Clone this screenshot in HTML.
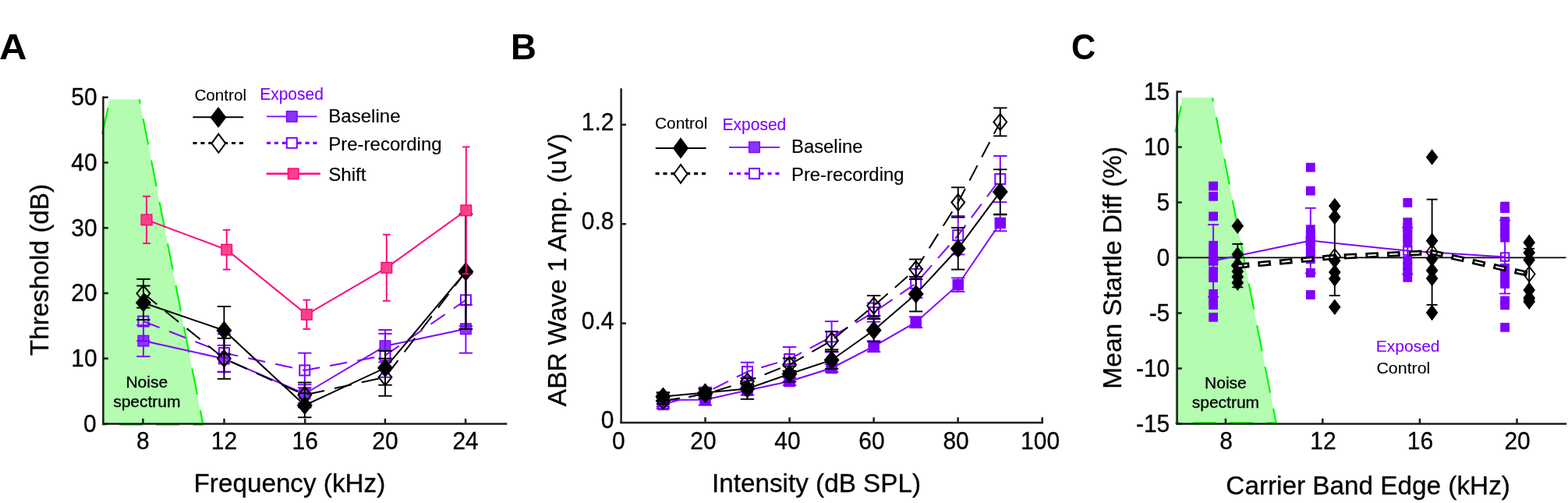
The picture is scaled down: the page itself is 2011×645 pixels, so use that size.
<!DOCTYPE html>
<html lang="en">
<head>
<meta charset="utf-8">
<title>Figure: ABR thresholds, wave 1 amplitude and startle difference</title>
<style>
html, body { margin: 0; padding: 0; background: #ffffff; }
body { width: 2011px; height: 645px; overflow: hidden; }
svg { display: block; }
text { font-family: "Liberation Sans", sans-serif; }
</style>
</head>
<body>
<svg width="2011" height="645" viewBox="0 0 2011 645" role="img" aria-label="Three-panel figure: ABR threshold, ABR wave 1 amplitude and mean startle difference">
<rect x="0" y="0" width="2011" height="645" fill="#ffffff"/>
<polygon points="131.2,544 131.2,170.7 140,127.4 178.7,127.4 260.35,544" fill="#b3fcb0"/>
<line x1="131" y1="171.7" x2="138.6" y2="138.5" stroke="#00f800" stroke-width="2.15" />
<line x1="178.75" y1="127.4" x2="179.79" y2="132.7" stroke="#00f800" stroke-width="2.15" />
<line x1="183.61" y1="152.2" x2="190.16" y2="185.6" stroke="#00f800" stroke-width="2.15" />
<line x1="194.08" y1="205.6" x2="200.62" y2="239" stroke="#00f800" stroke-width="2.15" />
<line x1="204.54" y1="259" x2="211.09" y2="292.4" stroke="#00f800" stroke-width="2.15" />
<line x1="215.01" y1="312.4" x2="221.56" y2="345.8" stroke="#00f800" stroke-width="2.15" />
<line x1="225.48" y1="365.8" x2="232.02" y2="399.2" stroke="#00f800" stroke-width="2.15" />
<line x1="235.94" y1="419.2" x2="242.49" y2="452.6" stroke="#00f800" stroke-width="2.15" />
<line x1="246.41" y1="472.6" x2="252.96" y2="506" stroke="#00f800" stroke-width="2.15" />
<line x1="256.88" y1="526" x2="260.4" y2="544" stroke="#00f800" stroke-width="2.15" />
<line x1="247.55" y1="544.5" x2="260.75" y2="544.5" stroke="#00f800" stroke-width="2.15" />
<line x1="200.15" y1="544.5" x2="229.95" y2="544.5" stroke="#00f800" stroke-width="2.15" />
<line x1="153.25" y1="544.5" x2="183.05" y2="544.5" stroke="#00f800" stroke-width="2.15" />
<line x1="130.9" y1="544.5" x2="136.3" y2="544.5" stroke="#00f800" stroke-width="2.15" />
<text transform="translate(188.3 496.9)" font-size="21" text-anchor="middle" fill="#000" stroke="#000" stroke-width="0.3">Noise</text>
<text transform="translate(188.3 521.8)" font-size="21" text-anchor="middle" fill="#000" stroke="#000" stroke-width="0.3">spectrum</text>
<polyline points="183.9,437.1 287.4,460 390.8,505 494,443.7 597.4,421.7" fill="none" stroke="#7f00ff" stroke-width="2" />
<line x1="183.9" y1="417.1" x2="183.9" y2="457.1" stroke="#7f00ff" stroke-width="1.9" />
<line x1="175.2" y1="417.1" x2="192.6" y2="417.1" stroke="#7f00ff" stroke-width="1.9" />
<line x1="175.2" y1="457.1" x2="192.6" y2="457.1" stroke="#7f00ff" stroke-width="1.9" />
<line x1="287.4" y1="442.8" x2="287.4" y2="477.2" stroke="#7f00ff" stroke-width="1.9" />
<line x1="278.7" y1="442.8" x2="296.1" y2="442.8" stroke="#7f00ff" stroke-width="1.9" />
<line x1="278.7" y1="477.2" x2="296.1" y2="477.2" stroke="#7f00ff" stroke-width="1.9" />
<line x1="390.8" y1="493.3" x2="390.8" y2="516.7" stroke="#7f00ff" stroke-width="1.9" />
<line x1="382.1" y1="493.3" x2="399.5" y2="493.3" stroke="#7f00ff" stroke-width="1.9" />
<line x1="382.1" y1="516.7" x2="399.5" y2="516.7" stroke="#7f00ff" stroke-width="1.9" />
<line x1="494" y1="423" x2="494" y2="464.4" stroke="#7f00ff" stroke-width="1.9" />
<line x1="485.3" y1="423" x2="502.7" y2="423" stroke="#7f00ff" stroke-width="1.9" />
<line x1="485.3" y1="464.4" x2="502.7" y2="464.4" stroke="#7f00ff" stroke-width="1.9" />
<line x1="597.4" y1="390.7" x2="597.4" y2="452.7" stroke="#7f00ff" stroke-width="1.9" />
<line x1="588.7" y1="390.7" x2="606.1" y2="390.7" stroke="#7f00ff" stroke-width="1.9" />
<line x1="588.7" y1="452.7" x2="606.1" y2="452.7" stroke="#7f00ff" stroke-width="1.9" />
<rect x="177.1" y="430.3" width="13.6" height="13.6" fill="#8833ff" stroke="#7f00ff" stroke-width="1.4"/>
<rect x="280.6" y="453.2" width="13.6" height="13.6" fill="#8833ff" stroke="#7f00ff" stroke-width="1.4"/>
<rect x="384" y="498.2" width="13.6" height="13.6" fill="#8833ff" stroke="#7f00ff" stroke-width="1.4"/>
<rect x="487.2" y="436.9" width="13.6" height="13.6" fill="#8833ff" stroke="#7f00ff" stroke-width="1.4"/>
<rect x="590.6" y="414.9" width="13.6" height="13.6" fill="#8833ff" stroke="#7f00ff" stroke-width="1.4"/>
<polyline points="183.9,412 287.4,452.5 390.8,474.9 494,455.8 597.4,384.8" fill="none" stroke="#7f00ff" stroke-width="2" stroke-dasharray="22.3 13.4" stroke-dashoffset="0" />
<line x1="183.9" y1="386.8" x2="183.9" y2="437.2" stroke="#7f00ff" stroke-width="1.9" />
<line x1="175.2" y1="386.8" x2="192.6" y2="386.8" stroke="#7f00ff" stroke-width="1.9" />
<line x1="175.2" y1="437.2" x2="192.6" y2="437.2" stroke="#7f00ff" stroke-width="1.9" />
<line x1="287.4" y1="428.4" x2="287.4" y2="476.6" stroke="#7f00ff" stroke-width="1.9" />
<line x1="278.7" y1="428.4" x2="296.1" y2="428.4" stroke="#7f00ff" stroke-width="1.9" />
<line x1="278.7" y1="476.6" x2="296.1" y2="476.6" stroke="#7f00ff" stroke-width="1.9" />
<line x1="390.8" y1="452.7" x2="390.8" y2="497.1" stroke="#7f00ff" stroke-width="1.9" />
<line x1="382.1" y1="452.7" x2="399.5" y2="452.7" stroke="#7f00ff" stroke-width="1.9" />
<line x1="382.1" y1="497.1" x2="399.5" y2="497.1" stroke="#7f00ff" stroke-width="1.9" />
<line x1="494" y1="427.9" x2="494" y2="483.7" stroke="#7f00ff" stroke-width="1.9" />
<line x1="485.3" y1="427.9" x2="502.7" y2="427.9" stroke="#7f00ff" stroke-width="1.9" />
<line x1="485.3" y1="483.7" x2="502.7" y2="483.7" stroke="#7f00ff" stroke-width="1.9" />
<line x1="597.4" y1="351.3" x2="597.4" y2="418.3" stroke="#7f00ff" stroke-width="1.9" />
<line x1="588.7" y1="351.3" x2="606.1" y2="351.3" stroke="#7f00ff" stroke-width="1.9" />
<line x1="588.7" y1="418.3" x2="606.1" y2="418.3" stroke="#7f00ff" stroke-width="1.9" />
<rect x="177.4" y="405.5" width="13" height="13" fill="none" stroke="#7f00ff" stroke-width="2"/>
<rect x="280.9" y="446" width="13" height="13" fill="none" stroke="#7f00ff" stroke-width="2"/>
<rect x="384.3" y="468.4" width="13" height="13" fill="none" stroke="#7f00ff" stroke-width="2"/>
<rect x="487.5" y="449.3" width="13" height="13" fill="none" stroke="#7f00ff" stroke-width="2"/>
<rect x="590.9" y="378.3" width="13" height="13" fill="none" stroke="#7f00ff" stroke-width="2"/>
<polyline points="183.9,376.3 287.4,459.8 390.8,506.5 494,483.7 597.4,348.2" fill="none" stroke="#000" stroke-width="2" stroke-dasharray="22.3 13.4" stroke-dashoffset="0" />
<line x1="183.9" y1="357.9" x2="183.9" y2="394.7" stroke="#000" stroke-width="1.9" />
<line x1="175.2" y1="357.9" x2="192.6" y2="357.9" stroke="#000" stroke-width="1.9" />
<line x1="175.2" y1="394.7" x2="192.6" y2="394.7" stroke="#000" stroke-width="1.9" />
<line x1="287.4" y1="433.8" x2="287.4" y2="485.8" stroke="#000" stroke-width="1.9" />
<line x1="278.7" y1="433.8" x2="296.1" y2="433.8" stroke="#000" stroke-width="1.9" />
<line x1="278.7" y1="485.8" x2="296.1" y2="485.8" stroke="#000" stroke-width="1.9" />
<line x1="390.8" y1="490.5" x2="390.8" y2="522.5" stroke="#000" stroke-width="1.9" />
<line x1="382.1" y1="490.5" x2="399.5" y2="490.5" stroke="#000" stroke-width="1.9" />
<line x1="382.1" y1="522.5" x2="399.5" y2="522.5" stroke="#000" stroke-width="1.9" />
<line x1="494" y1="459.7" x2="494" y2="507.7" stroke="#000" stroke-width="1.9" />
<line x1="485.3" y1="459.7" x2="502.7" y2="459.7" stroke="#000" stroke-width="1.9" />
<line x1="485.3" y1="507.7" x2="502.7" y2="507.7" stroke="#000" stroke-width="1.9" />
<line x1="597.4" y1="274.4" x2="597.4" y2="422" stroke="#000" stroke-width="1.9" />
<line x1="588.7" y1="274.4" x2="606.1" y2="274.4" stroke="#000" stroke-width="1.9" />
<line x1="588.7" y1="422" x2="606.1" y2="422" stroke="#000" stroke-width="1.9" />
<polygon points="183.9,365.9 192.3,376.3 183.9,386.7 175.5,376.3" fill="none" stroke="#000" stroke-width="2" stroke-linejoin="miter"/>
<polygon points="287.4,449.4 295.8,459.8 287.4,470.2 279,459.8" fill="none" stroke="#000" stroke-width="2" stroke-linejoin="miter"/>
<polygon points="390.8,496.1 399.2,506.5 390.8,516.9 382.4,506.5" fill="none" stroke="#000" stroke-width="2" stroke-linejoin="miter"/>
<polygon points="494,473.3 502.4,483.7 494,494.1 485.6,483.7" fill="none" stroke="#000" stroke-width="2" stroke-linejoin="miter"/>
<polygon points="597.4,337.8 605.8,348.2 597.4,358.6 589,348.2" fill="none" stroke="#000" stroke-width="2" stroke-linejoin="miter"/>
<polyline points="183.9,388.3 287.4,423.7 390.8,519.7 494,471.8 597.4,348.4" fill="none" stroke="#000" stroke-width="2" />
<line x1="183.9" y1="366.5" x2="183.9" y2="410.1" stroke="#000" stroke-width="1.9" />
<line x1="175.2" y1="366.5" x2="192.6" y2="366.5" stroke="#000" stroke-width="1.9" />
<line x1="175.2" y1="410.1" x2="192.6" y2="410.1" stroke="#000" stroke-width="1.9" />
<line x1="287.4" y1="393" x2="287.4" y2="454.4" stroke="#000" stroke-width="1.9" />
<line x1="278.7" y1="393" x2="296.1" y2="393" stroke="#000" stroke-width="1.9" />
<line x1="278.7" y1="454.4" x2="296.1" y2="454.4" stroke="#000" stroke-width="1.9" />
<line x1="390.8" y1="504.2" x2="390.8" y2="535.2" stroke="#000" stroke-width="1.9" />
<line x1="382.1" y1="504.2" x2="399.5" y2="504.2" stroke="#000" stroke-width="1.9" />
<line x1="382.1" y1="535.2" x2="399.5" y2="535.2" stroke="#000" stroke-width="1.9" />
<line x1="494" y1="449.9" x2="494" y2="493.7" stroke="#000" stroke-width="1.9" />
<line x1="485.3" y1="449.9" x2="502.7" y2="449.9" stroke="#000" stroke-width="1.9" />
<line x1="485.3" y1="493.7" x2="502.7" y2="493.7" stroke="#000" stroke-width="1.9" />
<line x1="597.4" y1="274.8" x2="597.4" y2="422" stroke="#000" stroke-width="1.9" />
<line x1="588.7" y1="274.8" x2="606.1" y2="274.8" stroke="#000" stroke-width="1.9" />
<line x1="588.7" y1="422" x2="606.1" y2="422" stroke="#000" stroke-width="1.9" />
<polygon points="183.9,376.1 193.9,388.3 183.9,400.5 173.9,388.3" fill="#000"/>
<polygon points="287.4,411.5 297.4,423.7 287.4,435.9 277.4,423.7" fill="#000"/>
<polygon points="390.8,507.5 400.8,519.7 390.8,531.9 380.8,519.7" fill="#000"/>
<polygon points="494,459.6 504,471.8 494,484 484,471.8" fill="#000"/>
<polygon points="597.4,336.2 607.4,348.4 597.4,360.6 587.4,348.4" fill="#000"/>
<polyline points="188,281.9 290.7,320.2 393.3,403.3 495.8,343.3 597.8,269.8" fill="none" stroke="#ff0080" stroke-width="2" />
<line x1="188" y1="251.7" x2="188" y2="312.1" stroke="#ff0080" stroke-width="1.9" />
<line x1="183.2" y1="251.7" x2="192.8" y2="251.7" stroke="#ff0080" stroke-width="1.9" />
<line x1="183.2" y1="312.1" x2="192.8" y2="312.1" stroke="#ff0080" stroke-width="1.9" />
<line x1="290.7" y1="294.8" x2="290.7" y2="345.6" stroke="#ff0080" stroke-width="1.9" />
<line x1="285.9" y1="294.8" x2="295.5" y2="294.8" stroke="#ff0080" stroke-width="1.9" />
<line x1="285.9" y1="345.6" x2="295.5" y2="345.6" stroke="#ff0080" stroke-width="1.9" />
<line x1="393.3" y1="384.6" x2="393.3" y2="422" stroke="#ff0080" stroke-width="1.9" />
<line x1="388.5" y1="384.6" x2="398.1" y2="384.6" stroke="#ff0080" stroke-width="1.9" />
<line x1="388.5" y1="422" x2="398.1" y2="422" stroke="#ff0080" stroke-width="1.9" />
<line x1="495.8" y1="300.8" x2="495.8" y2="385.8" stroke="#ff0080" stroke-width="1.9" />
<line x1="491" y1="300.8" x2="500.6" y2="300.8" stroke="#ff0080" stroke-width="1.9" />
<line x1="491" y1="385.8" x2="500.6" y2="385.8" stroke="#ff0080" stroke-width="1.9" />
<line x1="597.8" y1="188.4" x2="597.8" y2="351.2" stroke="#ff0080" stroke-width="1.9" />
<line x1="593" y1="188.4" x2="602.6" y2="188.4" stroke="#ff0080" stroke-width="1.9" />
<line x1="593" y1="351.2" x2="602.6" y2="351.2" stroke="#ff0080" stroke-width="1.9" />
<rect x="181.2" y="275.1" width="13.6" height="13.6" fill="#ff4088" stroke="#ff0080" stroke-width="1.4"/>
<rect x="283.9" y="313.4" width="13.6" height="13.6" fill="#ff4088" stroke="#ff0080" stroke-width="1.4"/>
<rect x="386.5" y="396.5" width="13.6" height="13.6" fill="#ff4088" stroke="#ff0080" stroke-width="1.4"/>
<rect x="489" y="336.5" width="13.6" height="13.6" fill="#ff4088" stroke="#ff0080" stroke-width="1.4"/>
<rect x="591" y="263" width="13.6" height="13.6" fill="#ff4088" stroke="#ff0080" stroke-width="1.4"/>
<line x1="132.4" y1="123.6" x2="132.4" y2="544.6" stroke="#1c1c1c" stroke-width="2.5" />
<line x1="131.3" y1="543.4" x2="650.3" y2="543.4" stroke="#1c1c1c" stroke-width="2.5" />
<line x1="132.4" y1="124.8" x2="138.8" y2="124.8" stroke="#1c1c1c" stroke-width="2.5" />
<text transform="translate(124.6 135.3) scale(1 1.045)" font-size="30" text-anchor="end" fill="#000" stroke="#000" stroke-width="0.3">50</text>
<line x1="132.4" y1="208.52" x2="138.8" y2="208.52" stroke="#1c1c1c" stroke-width="2.5" />
<text transform="translate(124.6 219.02) scale(1 1.045)" font-size="30" text-anchor="end" fill="#000" stroke="#000" stroke-width="0.3">40</text>
<line x1="132.4" y1="292.24" x2="138.8" y2="292.24" stroke="#1c1c1c" stroke-width="2.5" />
<text transform="translate(124.6 302.74) scale(1 1.045)" font-size="30" text-anchor="end" fill="#000" stroke="#000" stroke-width="0.3">30</text>
<line x1="132.4" y1="375.96" x2="138.8" y2="375.96" stroke="#1c1c1c" stroke-width="2.5" />
<text transform="translate(124.6 386.46) scale(1 1.045)" font-size="30" text-anchor="end" fill="#000" stroke="#000" stroke-width="0.3">20</text>
<line x1="132.4" y1="459.68" x2="138.8" y2="459.68" stroke="#1c1c1c" stroke-width="2.5" />
<text transform="translate(124.6 470.18) scale(1 1.045)" font-size="30" text-anchor="end" fill="#000" stroke="#000" stroke-width="0.3">10</text>
<line x1="132.4" y1="543.4" x2="138.8" y2="543.4" stroke="#1c1c1c" stroke-width="2.5" />
<text transform="translate(123.6 553.9) scale(1 1.045)" font-size="30" text-anchor="end" fill="#000" stroke="#000" stroke-width="0.3">0</text>
<line x1="183.4" y1="536.8" x2="183.4" y2="543.4" stroke="#1c1c1c" stroke-width="2.5" />
<text transform="translate(183.4 576) scale(1 1.045)" font-size="30" text-anchor="middle" fill="#000" stroke="#000" stroke-width="0.3">8</text>
<line x1="287.5" y1="536.8" x2="287.5" y2="543.4" stroke="#1c1c1c" stroke-width="2.5" />
<text transform="translate(287.5 576) scale(1 1.045)" font-size="30" text-anchor="middle" fill="#000" stroke="#000" stroke-width="0.3">12</text>
<line x1="391.2" y1="536.8" x2="391.2" y2="543.4" stroke="#1c1c1c" stroke-width="2.5" />
<text transform="translate(391.2 576) scale(1 1.045)" font-size="30" text-anchor="middle" fill="#000" stroke="#000" stroke-width="0.3">16</text>
<line x1="493.9" y1="536.8" x2="493.9" y2="543.4" stroke="#1c1c1c" stroke-width="2.5" />
<text transform="translate(493.9 576) scale(1 1.045)" font-size="30" text-anchor="middle" fill="#000" stroke="#000" stroke-width="0.3">20</text>
<line x1="597.1" y1="536.8" x2="597.1" y2="543.4" stroke="#1c1c1c" stroke-width="2.5" />
<text transform="translate(597.1 576) scale(1 1.045)" font-size="30" text-anchor="middle" fill="#000" stroke="#000" stroke-width="0.3">24</text>
<text transform="translate(371.4 631.4)" font-size="33.25" text-anchor="middle" fill="#000" stroke="#000" stroke-width="0.3">Frequency (kHz)</text>
<text transform="translate(61.9 346) rotate(-90)" font-size="33.3" text-anchor="middle" fill="#000" stroke="#000" stroke-width="0.3">Threshold (dB)</text>
<text transform="translate(-0.9 76) scale(1.07 1)" font-size="46" text-anchor="start" fill="#000" font-weight="bold">A</text>
<text transform="translate(249.4 128.7) scale(1 0.96)" font-size="20.7" text-anchor="start" fill="#000" stroke="#000" stroke-width="0.1">Control</text>
<text transform="translate(333.2 128.2) scale(1 1.04)" font-size="21" text-anchor="start" fill="#7f00ff" stroke="#7f00ff" stroke-width="0.1">Exposed</text>
<line x1="247.3" y1="150.2" x2="312.2" y2="150.2" stroke="#000" stroke-width="2" />
<polygon points="280,136.9 290.4,150.4 280,163.9 269.6,150.4" fill="#000"/>
<line x1="247.5" y1="183.5" x2="312.5" y2="183.5" stroke="#000" stroke-width="3.2" stroke-dasharray="5 4.9"/>
<polygon points="280.3,171.8 289.2,183.8 280.3,195.8 271.4,183.8" fill="#fff" stroke="#000" stroke-width="2" stroke-linejoin="miter"/>
<line x1="342" y1="149.3" x2="406.6" y2="149.3" stroke="#7f00ff" stroke-width="1.7" />
<rect x="367.5" y="142.6" width="13.6" height="13.6" fill="#8833ff" stroke="#7f00ff" stroke-width="1.4"/>
<line x1="342" y1="183.3" x2="406.6" y2="183.3" stroke="#7f00ff" stroke-width="3.2" stroke-dasharray="5 4.9"/>
<rect x="367.8" y="176.8" width="13" height="13" fill="#fff" stroke="#7f00ff" stroke-width="2"/>
<line x1="341.6" y1="222.7" x2="410.9" y2="222.7" stroke="#ff0080" stroke-width="2.4" />
<rect x="369.4" y="216" width="13.6" height="13.6" fill="#ff4088" stroke="#ff0080" stroke-width="1.4"/>
<text transform="translate(421.2 157.4)" font-size="24.1" text-anchor="start" fill="#000" stroke="#000" stroke-width="0.15">Baseline</text>
<text transform="translate(421.2 193.4)" font-size="24" text-anchor="start" fill="#000" stroke="#000" stroke-width="0.15">Pre-recording</text>
<text transform="translate(421.2 231.8)" font-size="24.1" text-anchor="start" fill="#000" stroke="#000" stroke-width="0.15">Shift</text>
<polyline points="850.4,512.9 904.45,512.6 958.5,500.5 1012.55,489 1066.6,472 1120.65,444.2 1174.7,413.2 1228.75,365.2 1282.8,285.9" fill="none" stroke="#7f00ff" stroke-width="2" />
<line x1="850.4" y1="504.6" x2="850.4" y2="521.2" stroke="#7f00ff" stroke-width="1.9" />
<line x1="841.7" y1="504.6" x2="859.1" y2="504.6" stroke="#7f00ff" stroke-width="1.9" />
<line x1="841.7" y1="521.2" x2="859.1" y2="521.2" stroke="#7f00ff" stroke-width="1.9" />
<line x1="904.45" y1="505.6" x2="904.45" y2="519.6" stroke="#7f00ff" stroke-width="1.9" />
<line x1="895.75" y1="505.6" x2="913.15" y2="505.6" stroke="#7f00ff" stroke-width="1.9" />
<line x1="895.75" y1="519.6" x2="913.15" y2="519.6" stroke="#7f00ff" stroke-width="1.9" />
<line x1="958.5" y1="494.5" x2="958.5" y2="506.5" stroke="#7f00ff" stroke-width="1.9" />
<line x1="949.8" y1="494.5" x2="967.2" y2="494.5" stroke="#7f00ff" stroke-width="1.9" />
<line x1="949.8" y1="506.5" x2="967.2" y2="506.5" stroke="#7f00ff" stroke-width="1.9" />
<line x1="1012.55" y1="484" x2="1012.55" y2="494" stroke="#7f00ff" stroke-width="1.9" />
<line x1="1003.85" y1="484" x2="1021.25" y2="484" stroke="#7f00ff" stroke-width="1.9" />
<line x1="1003.85" y1="494" x2="1021.25" y2="494" stroke="#7f00ff" stroke-width="1.9" />
<line x1="1066.6" y1="467" x2="1066.6" y2="477" stroke="#7f00ff" stroke-width="1.9" />
<line x1="1057.9" y1="467" x2="1075.3" y2="467" stroke="#7f00ff" stroke-width="1.9" />
<line x1="1057.9" y1="477" x2="1075.3" y2="477" stroke="#7f00ff" stroke-width="1.9" />
<line x1="1120.65" y1="437.2" x2="1120.65" y2="451.2" stroke="#7f00ff" stroke-width="1.9" />
<line x1="1111.95" y1="437.2" x2="1129.35" y2="437.2" stroke="#7f00ff" stroke-width="1.9" />
<line x1="1111.95" y1="451.2" x2="1129.35" y2="451.2" stroke="#7f00ff" stroke-width="1.9" />
<line x1="1174.7" y1="406.2" x2="1174.7" y2="420.2" stroke="#7f00ff" stroke-width="1.9" />
<line x1="1166" y1="406.2" x2="1183.4" y2="406.2" stroke="#7f00ff" stroke-width="1.9" />
<line x1="1166" y1="420.2" x2="1183.4" y2="420.2" stroke="#7f00ff" stroke-width="1.9" />
<line x1="1228.75" y1="356.4" x2="1228.75" y2="374" stroke="#7f00ff" stroke-width="1.9" />
<line x1="1220.05" y1="356.4" x2="1237.45" y2="356.4" stroke="#7f00ff" stroke-width="1.9" />
<line x1="1220.05" y1="374" x2="1237.45" y2="374" stroke="#7f00ff" stroke-width="1.9" />
<line x1="1282.8" y1="275.5" x2="1282.8" y2="296.3" stroke="#7f00ff" stroke-width="1.9" />
<line x1="1274.1" y1="275.5" x2="1291.5" y2="275.5" stroke="#7f00ff" stroke-width="1.9" />
<line x1="1274.1" y1="296.3" x2="1291.5" y2="296.3" stroke="#7f00ff" stroke-width="1.9" />
<rect x="843.85" y="506.35" width="13.1" height="13.1" fill="#7f00ff" stroke="#7f00ff" stroke-width="1.4"/>
<rect x="897.9" y="506.05" width="13.1" height="13.1" fill="#7f00ff" stroke="#7f00ff" stroke-width="1.4"/>
<rect x="951.95" y="493.95" width="13.1" height="13.1" fill="#7f00ff" stroke="#7f00ff" stroke-width="1.4"/>
<rect x="1006" y="482.45" width="13.1" height="13.1" fill="#7f00ff" stroke="#7f00ff" stroke-width="1.4"/>
<rect x="1060.05" y="465.45" width="13.1" height="13.1" fill="#7f00ff" stroke="#7f00ff" stroke-width="1.4"/>
<rect x="1114.1" y="437.65" width="13.1" height="13.1" fill="#7f00ff" stroke="#7f00ff" stroke-width="1.4"/>
<rect x="1168.15" y="406.65" width="13.1" height="13.1" fill="#7f00ff" stroke="#7f00ff" stroke-width="1.4"/>
<rect x="1222.2" y="358.65" width="13.1" height="13.1" fill="#7f00ff" stroke="#7f00ff" stroke-width="1.4"/>
<rect x="1276.25" y="279.35" width="13.1" height="13.1" fill="#7f00ff" stroke="#7f00ff" stroke-width="1.4"/>
<polyline points="850.4,518.6 904.45,503.7 958.5,476.6 1012.55,460.5 1066.6,431.8 1120.65,400.6 1174.7,363.4 1228.75,301.7 1282.8,229.6" fill="none" stroke="#7f00ff" stroke-width="2" stroke-dasharray="21.8 11.95" stroke-dashoffset="0" />
<line x1="850.4" y1="513.6" x2="850.4" y2="523.6" stroke="#7f00ff" stroke-width="1.9" />
<line x1="841.7" y1="513.6" x2="859.1" y2="513.6" stroke="#7f00ff" stroke-width="1.9" />
<line x1="841.7" y1="523.6" x2="859.1" y2="523.6" stroke="#7f00ff" stroke-width="1.9" />
<line x1="904.45" y1="496.7" x2="904.45" y2="510.7" stroke="#7f00ff" stroke-width="1.9" />
<line x1="895.75" y1="496.7" x2="913.15" y2="496.7" stroke="#7f00ff" stroke-width="1.9" />
<line x1="895.75" y1="510.7" x2="913.15" y2="510.7" stroke="#7f00ff" stroke-width="1.9" />
<line x1="958.5" y1="464.7" x2="958.5" y2="488.5" stroke="#7f00ff" stroke-width="1.9" />
<line x1="949.8" y1="464.7" x2="967.2" y2="464.7" stroke="#7f00ff" stroke-width="1.9" />
<line x1="949.8" y1="488.5" x2="967.2" y2="488.5" stroke="#7f00ff" stroke-width="1.9" />
<line x1="1012.55" y1="445" x2="1012.55" y2="476" stroke="#7f00ff" stroke-width="1.9" />
<line x1="1003.85" y1="445" x2="1021.25" y2="445" stroke="#7f00ff" stroke-width="1.9" />
<line x1="1003.85" y1="476" x2="1021.25" y2="476" stroke="#7f00ff" stroke-width="1.9" />
<line x1="1066.6" y1="412.1" x2="1066.6" y2="451.5" stroke="#7f00ff" stroke-width="1.9" />
<line x1="1057.9" y1="412.1" x2="1075.3" y2="412.1" stroke="#7f00ff" stroke-width="1.9" />
<line x1="1057.9" y1="451.5" x2="1075.3" y2="451.5" stroke="#7f00ff" stroke-width="1.9" />
<line x1="1120.65" y1="388.6" x2="1120.65" y2="412.6" stroke="#7f00ff" stroke-width="1.9" />
<line x1="1111.95" y1="388.6" x2="1129.35" y2="388.6" stroke="#7f00ff" stroke-width="1.9" />
<line x1="1111.95" y1="412.6" x2="1129.35" y2="412.6" stroke="#7f00ff" stroke-width="1.9" />
<line x1="1174.7" y1="344.8" x2="1174.7" y2="382" stroke="#7f00ff" stroke-width="1.9" />
<line x1="1166" y1="344.8" x2="1183.4" y2="344.8" stroke="#7f00ff" stroke-width="1.9" />
<line x1="1166" y1="382" x2="1183.4" y2="382" stroke="#7f00ff" stroke-width="1.9" />
<line x1="1228.75" y1="277" x2="1228.75" y2="326.4" stroke="#7f00ff" stroke-width="1.9" />
<line x1="1220.05" y1="277" x2="1237.45" y2="277" stroke="#7f00ff" stroke-width="1.9" />
<line x1="1220.05" y1="326.4" x2="1237.45" y2="326.4" stroke="#7f00ff" stroke-width="1.9" />
<line x1="1282.8" y1="200" x2="1282.8" y2="259.2" stroke="#7f00ff" stroke-width="1.9" />
<line x1="1274.1" y1="200" x2="1291.5" y2="200" stroke="#7f00ff" stroke-width="1.9" />
<line x1="1274.1" y1="259.2" x2="1291.5" y2="259.2" stroke="#7f00ff" stroke-width="1.9" />
<rect x="843.9" y="512.1" width="13" height="13" fill="none" stroke="#7f00ff" stroke-width="2"/>
<rect x="897.95" y="497.2" width="13" height="13" fill="none" stroke="#7f00ff" stroke-width="2"/>
<rect x="952" y="470.1" width="13" height="13" fill="none" stroke="#7f00ff" stroke-width="2"/>
<rect x="1006.05" y="454" width="13" height="13" fill="none" stroke="#7f00ff" stroke-width="2"/>
<rect x="1060.1" y="425.3" width="13" height="13" fill="none" stroke="#7f00ff" stroke-width="2"/>
<rect x="1114.15" y="394.1" width="13" height="13" fill="none" stroke="#7f00ff" stroke-width="2"/>
<rect x="1168.2" y="356.9" width="13" height="13" fill="none" stroke="#7f00ff" stroke-width="2"/>
<rect x="1222.25" y="295.2" width="13" height="13" fill="none" stroke="#7f00ff" stroke-width="2"/>
<rect x="1276.3" y="223.1" width="13" height="13" fill="none" stroke="#7f00ff" stroke-width="2"/>
<polyline points="850.4,514 904.45,505.3 958.5,489 1012.55,467.5 1066.6,436.7 1120.65,392.1 1174.7,345.3 1228.75,259.5 1282.8,156.4" fill="none" stroke="#000" stroke-width="2" stroke-dasharray="21.8 11.95" stroke-dashoffset="0" />
<line x1="850.4" y1="510" x2="850.4" y2="518" stroke="#000" stroke-width="1.9" />
<line x1="841.7" y1="510" x2="859.1" y2="510" stroke="#000" stroke-width="1.9" />
<line x1="841.7" y1="518" x2="859.1" y2="518" stroke="#000" stroke-width="1.9" />
<line x1="904.45" y1="499.3" x2="904.45" y2="511.3" stroke="#000" stroke-width="1.9" />
<line x1="895.75" y1="499.3" x2="913.15" y2="499.3" stroke="#000" stroke-width="1.9" />
<line x1="895.75" y1="511.3" x2="913.15" y2="511.3" stroke="#000" stroke-width="1.9" />
<line x1="958.5" y1="485.2" x2="958.5" y2="492.8" stroke="#000" stroke-width="1.9" />
<line x1="949.8" y1="485.2" x2="967.2" y2="485.2" stroke="#000" stroke-width="1.9" />
<line x1="949.8" y1="492.8" x2="967.2" y2="492.8" stroke="#000" stroke-width="1.9" />
<line x1="1012.55" y1="459.5" x2="1012.55" y2="475.5" stroke="#000" stroke-width="1.9" />
<line x1="1003.85" y1="459.5" x2="1021.25" y2="459.5" stroke="#000" stroke-width="1.9" />
<line x1="1003.85" y1="475.5" x2="1021.25" y2="475.5" stroke="#000" stroke-width="1.9" />
<line x1="1066.6" y1="425.1" x2="1066.6" y2="448.3" stroke="#000" stroke-width="1.9" />
<line x1="1057.9" y1="425.1" x2="1075.3" y2="425.1" stroke="#000" stroke-width="1.9" />
<line x1="1057.9" y1="448.3" x2="1075.3" y2="448.3" stroke="#000" stroke-width="1.9" />
<line x1="1120.65" y1="379.1" x2="1120.65" y2="405.1" stroke="#000" stroke-width="1.9" />
<line x1="1111.95" y1="379.1" x2="1129.35" y2="379.1" stroke="#000" stroke-width="1.9" />
<line x1="1111.95" y1="405.1" x2="1129.35" y2="405.1" stroke="#000" stroke-width="1.9" />
<line x1="1174.7" y1="332.5" x2="1174.7" y2="358.1" stroke="#000" stroke-width="1.9" />
<line x1="1166" y1="332.5" x2="1183.4" y2="332.5" stroke="#000" stroke-width="1.9" />
<line x1="1166" y1="358.1" x2="1183.4" y2="358.1" stroke="#000" stroke-width="1.9" />
<line x1="1228.75" y1="240.3" x2="1228.75" y2="278.7" stroke="#000" stroke-width="1.9" />
<line x1="1220.05" y1="240.3" x2="1237.45" y2="240.3" stroke="#000" stroke-width="1.9" />
<line x1="1220.05" y1="278.7" x2="1237.45" y2="278.7" stroke="#000" stroke-width="1.9" />
<line x1="1282.8" y1="138.4" x2="1282.8" y2="174.4" stroke="#000" stroke-width="1.9" />
<line x1="1274.1" y1="138.4" x2="1291.5" y2="138.4" stroke="#000" stroke-width="1.9" />
<line x1="1274.1" y1="174.4" x2="1291.5" y2="174.4" stroke="#000" stroke-width="1.9" />
<polygon points="850.4,503.6 858.8,514 850.4,524.4 842,514" fill="none" stroke="#000" stroke-width="2" stroke-linejoin="miter"/>
<polygon points="904.45,494.9 912.85,505.3 904.45,515.7 896.05,505.3" fill="none" stroke="#000" stroke-width="2" stroke-linejoin="miter"/>
<polygon points="958.5,478.6 966.9,489 958.5,499.4 950.1,489" fill="none" stroke="#000" stroke-width="2" stroke-linejoin="miter"/>
<polygon points="1012.55,457.1 1020.95,467.5 1012.55,477.9 1004.15,467.5" fill="none" stroke="#000" stroke-width="2" stroke-linejoin="miter"/>
<polygon points="1066.6,426.3 1075,436.7 1066.6,447.1 1058.2,436.7" fill="none" stroke="#000" stroke-width="2" stroke-linejoin="miter"/>
<polygon points="1120.65,381.7 1129.05,392.1 1120.65,402.5 1112.25,392.1" fill="none" stroke="#000" stroke-width="2" stroke-linejoin="miter"/>
<polygon points="1174.7,334.9 1183.1,345.3 1174.7,355.7 1166.3,345.3" fill="none" stroke="#000" stroke-width="2" stroke-linejoin="miter"/>
<polygon points="1228.75,249.1 1237.15,259.5 1228.75,269.9 1220.35,259.5" fill="none" stroke="#000" stroke-width="2" stroke-linejoin="miter"/>
<polygon points="1282.8,146 1291.2,156.4 1282.8,166.8 1274.4,156.4" fill="none" stroke="#000" stroke-width="2" stroke-linejoin="miter"/>
<polyline points="850.4,508.6 904.45,503.5 958.5,498.5 1012.55,479.5 1066.6,461.7 1120.65,423.5 1174.7,377.1 1228.75,318.8 1282.8,246" fill="none" stroke="#000" stroke-width="2" />
<line x1="850.4" y1="503.1" x2="850.4" y2="514.1" stroke="#000" stroke-width="1.9" />
<line x1="841.7" y1="503.1" x2="859.1" y2="503.1" stroke="#000" stroke-width="1.9" />
<line x1="841.7" y1="514.1" x2="859.1" y2="514.1" stroke="#000" stroke-width="1.9" />
<line x1="904.45" y1="498.5" x2="904.45" y2="508.5" stroke="#000" stroke-width="1.9" />
<line x1="895.75" y1="498.5" x2="913.15" y2="498.5" stroke="#000" stroke-width="1.9" />
<line x1="895.75" y1="508.5" x2="913.15" y2="508.5" stroke="#000" stroke-width="1.9" />
<line x1="958.5" y1="485.2" x2="958.5" y2="511.8" stroke="#000" stroke-width="1.9" />
<line x1="949.8" y1="485.2" x2="967.2" y2="485.2" stroke="#000" stroke-width="1.9" />
<line x1="949.8" y1="511.8" x2="967.2" y2="511.8" stroke="#000" stroke-width="1.9" />
<line x1="1012.55" y1="469.5" x2="1012.55" y2="489.5" stroke="#000" stroke-width="1.9" />
<line x1="1003.85" y1="469.5" x2="1021.25" y2="469.5" stroke="#000" stroke-width="1.9" />
<line x1="1003.85" y1="489.5" x2="1021.25" y2="489.5" stroke="#000" stroke-width="1.9" />
<line x1="1066.6" y1="450.5" x2="1066.6" y2="472.9" stroke="#000" stroke-width="1.9" />
<line x1="1057.9" y1="450.5" x2="1075.3" y2="450.5" stroke="#000" stroke-width="1.9" />
<line x1="1057.9" y1="472.9" x2="1075.3" y2="472.9" stroke="#000" stroke-width="1.9" />
<line x1="1120.65" y1="409" x2="1120.65" y2="438" stroke="#000" stroke-width="1.9" />
<line x1="1111.95" y1="409" x2="1129.35" y2="409" stroke="#000" stroke-width="1.9" />
<line x1="1111.95" y1="438" x2="1129.35" y2="438" stroke="#000" stroke-width="1.9" />
<line x1="1174.7" y1="354.8" x2="1174.7" y2="399.4" stroke="#000" stroke-width="1.9" />
<line x1="1166" y1="354.8" x2="1183.4" y2="354.8" stroke="#000" stroke-width="1.9" />
<line x1="1166" y1="399.4" x2="1183.4" y2="399.4" stroke="#000" stroke-width="1.9" />
<line x1="1228.75" y1="292" x2="1228.75" y2="345.6" stroke="#000" stroke-width="1.9" />
<line x1="1220.05" y1="292" x2="1237.45" y2="292" stroke="#000" stroke-width="1.9" />
<line x1="1220.05" y1="345.6" x2="1237.45" y2="345.6" stroke="#000" stroke-width="1.9" />
<line x1="1282.8" y1="217.3" x2="1282.8" y2="274.7" stroke="#000" stroke-width="1.9" />
<line x1="1274.1" y1="217.3" x2="1291.5" y2="217.3" stroke="#000" stroke-width="1.9" />
<line x1="1274.1" y1="274.7" x2="1291.5" y2="274.7" stroke="#000" stroke-width="1.9" />
<polygon points="850.4,496.4 860.4,508.6 850.4,520.8 840.4,508.6" fill="#000"/>
<polygon points="904.45,491.3 914.45,503.5 904.45,515.7 894.45,503.5" fill="#000"/>
<polygon points="958.5,486.3 968.5,498.5 958.5,510.7 948.5,498.5" fill="#000"/>
<polygon points="1012.55,467.3 1022.55,479.5 1012.55,491.7 1002.55,479.5" fill="#000"/>
<polygon points="1066.6,449.5 1076.6,461.7 1066.6,473.9 1056.6,461.7" fill="#000"/>
<polygon points="1120.65,411.3 1130.65,423.5 1120.65,435.7 1110.65,423.5" fill="#000"/>
<polygon points="1174.7,364.9 1184.7,377.1 1174.7,389.3 1164.7,377.1" fill="#000"/>
<polygon points="1228.75,306.6 1238.75,318.8 1228.75,331 1218.75,318.8" fill="#000"/>
<polygon points="1282.8,233.8 1292.8,246 1282.8,258.2 1272.8,246" fill="#000"/>
<line x1="796.6" y1="113.3" x2="796.6" y2="543.1" stroke="#1c1c1c" stroke-width="2.5" />
<line x1="795.5" y1="542" x2="1338" y2="542" stroke="#1c1c1c" stroke-width="2.5" />
<line x1="796.6" y1="159.9" x2="803" y2="159.9" stroke="#1c1c1c" stroke-width="2.5" />
<text transform="translate(787.4 167.1) scale(1 1.045)" font-size="30" text-anchor="end" fill="#000" stroke="#000" stroke-width="0.3">1.2</text>
<line x1="796.6" y1="287.2" x2="803" y2="287.2" stroke="#1c1c1c" stroke-width="2.5" />
<text transform="translate(787.4 294.4) scale(1 1.045)" font-size="30" text-anchor="end" fill="#000" stroke="#000" stroke-width="0.3">0.8</text>
<line x1="796.6" y1="414.6" x2="803" y2="414.6" stroke="#1c1c1c" stroke-width="2.5" />
<text transform="translate(787.4 421.8) scale(1 1.045)" font-size="30" text-anchor="end" fill="#000" stroke="#000" stroke-width="0.3">0.4</text>
<text transform="translate(787.4 549.2) scale(1 1.045)" font-size="30" text-anchor="end" fill="#000" stroke="#000" stroke-width="0.3">0</text>
<text transform="translate(793.4 575.8) scale(1 1.045)" font-size="30" text-anchor="middle" fill="#000" stroke="#000" stroke-width="0.3">0</text>
<line x1="904.54" y1="535.2" x2="904.54" y2="542" stroke="#1c1c1c" stroke-width="2.5" />
<text transform="translate(901.94 575.8) scale(1 1.045)" font-size="30" text-anchor="middle" fill="#000" stroke="#000" stroke-width="0.3">20</text>
<line x1="1012.58" y1="535.2" x2="1012.58" y2="542" stroke="#1c1c1c" stroke-width="2.5" />
<text transform="translate(1009.98 575.8) scale(1 1.045)" font-size="30" text-anchor="middle" fill="#000" stroke="#000" stroke-width="0.3">40</text>
<line x1="1120.62" y1="535.2" x2="1120.62" y2="542" stroke="#1c1c1c" stroke-width="2.5" />
<text transform="translate(1118.02 575.8) scale(1 1.045)" font-size="30" text-anchor="middle" fill="#000" stroke="#000" stroke-width="0.3">60</text>
<line x1="1228.66" y1="535.2" x2="1228.66" y2="542" stroke="#1c1c1c" stroke-width="2.5" />
<text transform="translate(1226.06 575.8) scale(1 1.045)" font-size="30" text-anchor="middle" fill="#000" stroke="#000" stroke-width="0.3">80</text>
<line x1="1336.7" y1="535.2" x2="1336.7" y2="542" stroke="#1c1c1c" stroke-width="2.5" />
<text transform="translate(1334.1 575.8) scale(1 1.045)" font-size="30" text-anchor="middle" fill="#000" stroke="#000" stroke-width="0.3">100</text>
<text transform="translate(1047 631.1)" font-size="33.25" text-anchor="middle" fill="#000" stroke="#000" stroke-width="0.3">Intensity (dB SPL)</text>
<text transform="translate(726.3 346.2) rotate(-90)" font-size="33.65" text-anchor="middle" fill="#000" stroke="#000" stroke-width="0.3">ABR Wave 1 Amp. (uV)</text>
<text transform="translate(654.9 76)" font-size="45.6" text-anchor="start" fill="#000" font-weight="bold">B</text>
<text transform="translate(840 165.1) scale(1 0.965)" font-size="20.9" text-anchor="start" fill="#000" stroke="#000" stroke-width="0.1">Control</text>
<text transform="translate(926.6 166.7) scale(1 1.04)" font-size="21" text-anchor="start" fill="#7f00ff" stroke="#7f00ff" stroke-width="0.1">Exposed</text>
<line x1="840.8" y1="190" x2="905.6" y2="190" stroke="#000" stroke-width="2" />
<polygon points="873,176.3 883.2,189.9 873,203.5 862.8,189.9" fill="#000"/>
<line x1="840.6" y1="222.6" x2="906" y2="222.6" stroke="#000" stroke-width="3.2" stroke-dasharray="5 4.9"/>
<polygon points="873,211.1 881.6,222.9 873,234.7 864.4,222.9" fill="#fff" stroke="#000" stroke-width="2" stroke-linejoin="miter"/>
<line x1="935" y1="188.8" x2="1000" y2="188.8" stroke="#7f00ff" stroke-width="1.7" />
<rect x="960.7" y="182" width="13.6" height="13.6" fill="#8833ff" stroke="#7f00ff" stroke-width="1.4"/>
<line x1="935" y1="222.6" x2="1000.2" y2="222.6" stroke="#7f00ff" stroke-width="3.2" stroke-dasharray="5 4.9"/>
<rect x="961" y="216.1" width="13" height="13" fill="#fff" stroke="#7f00ff" stroke-width="2"/>
<text transform="translate(1015 196)" font-size="23.85" text-anchor="start" fill="#000" stroke="#000" stroke-width="0.15">Baseline</text>
<text transform="translate(1015 231.9)" font-size="23.85" text-anchor="start" fill="#000" stroke="#000" stroke-width="0.15">Pre-recording</text>
<polygon points="1507.4,544 1507.4,168.5 1516.2,125.2 1554.9,125.2 1636.98,544" fill="#b3fcb0"/>
<line x1="1507.2" y1="169.5" x2="1514.8" y2="136.3" stroke="#00f800" stroke-width="2.15" />
<line x1="1554.95" y1="125.2" x2="1555.99" y2="130.5" stroke="#00f800" stroke-width="2.15" />
<line x1="1559.81" y1="150" x2="1566.36" y2="183.4" stroke="#00f800" stroke-width="2.15" />
<line x1="1570.28" y1="203.4" x2="1576.82" y2="236.8" stroke="#00f800" stroke-width="2.15" />
<line x1="1580.74" y1="256.8" x2="1587.29" y2="290.2" stroke="#00f800" stroke-width="2.15" />
<line x1="1591.21" y1="310.2" x2="1597.76" y2="343.6" stroke="#00f800" stroke-width="2.15" />
<line x1="1601.68" y1="363.6" x2="1608.22" y2="397" stroke="#00f800" stroke-width="2.15" />
<line x1="1612.14" y1="417" x2="1618.69" y2="450.4" stroke="#00f800" stroke-width="2.15" />
<line x1="1622.61" y1="470.4" x2="1629.16" y2="503.8" stroke="#00f800" stroke-width="2.15" />
<line x1="1633.08" y1="523.8" x2="1636.96" y2="543.6" stroke="#00f800" stroke-width="2.15" />
<line x1="1624.18" y1="542.3" x2="1637.38" y2="542.3" stroke="#00f800" stroke-width="2.15" />
<line x1="1576.78" y1="542.3" x2="1606.58" y2="542.3" stroke="#00f800" stroke-width="2.15" />
<line x1="1529.88" y1="542.3" x2="1559.68" y2="542.3" stroke="#00f800" stroke-width="2.15" />
<line x1="1507.1" y1="542.3" x2="1512.5" y2="542.3" stroke="#00f800" stroke-width="2.15" />
<text transform="translate(1571.9 498.2)" font-size="21" text-anchor="middle" fill="#000" stroke="#000" stroke-width="0.3">Noise</text>
<text transform="translate(1571.9 523.1)" font-size="21" text-anchor="middle" fill="#000" stroke="#000" stroke-width="0.3">spectrum</text>
<line x1="1509.6" y1="330.4" x2="2008.5" y2="330.4" stroke="#000" stroke-width="1.7" />
<rect x="1550.2" y="232.7" width="11.8" height="11.8" fill="#7f00ff"/>
<rect x="1550.2" y="245.9" width="11.8" height="11.8" fill="#7f00ff"/>
<rect x="1550.2" y="271.5" width="11.8" height="11.8" fill="#7f00ff"/>
<rect x="1550.2" y="308.9" width="11.8" height="11.8" fill="#7f00ff"/>
<rect x="1550.2" y="317.1" width="11.8" height="11.8" fill="#7f00ff"/>
<rect x="1550.2" y="328.8" width="11.8" height="11.8" fill="#7f00ff"/>
<rect x="1550.2" y="342" width="11.8" height="11.8" fill="#7f00ff"/>
<rect x="1550.2" y="350.1" width="11.8" height="11.8" fill="#7f00ff"/>
<rect x="1550.2" y="371" width="11.8" height="11.8" fill="#7f00ff"/>
<rect x="1550.2" y="378.4" width="11.8" height="11.8" fill="#7f00ff"/>
<rect x="1550.2" y="385.1" width="11.8" height="11.8" fill="#7f00ff"/>
<rect x="1550.2" y="400.9" width="11.8" height="11.8" fill="#7f00ff"/>
<rect x="1674.9" y="208.8" width="11.8" height="11.8" fill="#7f00ff"/>
<rect x="1674.9" y="238.8" width="11.8" height="11.8" fill="#7f00ff"/>
<rect x="1674.9" y="288.3" width="11.8" height="11.8" fill="#7f00ff"/>
<rect x="1674.9" y="295.1" width="11.8" height="11.8" fill="#7f00ff"/>
<rect x="1674.9" y="303.1" width="11.8" height="11.8" fill="#7f00ff"/>
<rect x="1674.9" y="311.1" width="11.8" height="11.8" fill="#7f00ff"/>
<rect x="1674.9" y="319.1" width="11.8" height="11.8" fill="#7f00ff"/>
<rect x="1674.9" y="326.4" width="11.8" height="11.8" fill="#7f00ff"/>
<rect x="1674.9" y="344" width="11.8" height="11.8" fill="#7f00ff"/>
<rect x="1674.9" y="372.1" width="11.8" height="11.8" fill="#7f00ff"/>
<rect x="1799.4" y="254" width="11.8" height="11.8" fill="#7f00ff"/>
<rect x="1799.4" y="279.1" width="11.8" height="11.8" fill="#7f00ff"/>
<rect x="1799.4" y="286.1" width="11.8" height="11.8" fill="#7f00ff"/>
<rect x="1799.4" y="293.1" width="11.8" height="11.8" fill="#7f00ff"/>
<rect x="1799.4" y="299.6" width="11.8" height="11.8" fill="#7f00ff"/>
<rect x="1799.4" y="305.4" width="11.8" height="11.8" fill="#7f00ff"/>
<rect x="1799.4" y="328.1" width="11.8" height="11.8" fill="#7f00ff"/>
<rect x="1799.4" y="335.1" width="11.8" height="11.8" fill="#7f00ff"/>
<rect x="1799.4" y="342.1" width="11.8" height="11.8" fill="#7f00ff"/>
<rect x="1799.4" y="349.9" width="11.8" height="11.8" fill="#7f00ff"/>
<rect x="1924.2" y="258.7" width="11.8" height="11.8" fill="#7f00ff"/>
<rect x="1924.2" y="261.3" width="11.8" height="11.8" fill="#7f00ff"/>
<rect x="1924.2" y="277.9" width="11.8" height="11.8" fill="#7f00ff"/>
<rect x="1924.2" y="285.1" width="11.8" height="11.8" fill="#7f00ff"/>
<rect x="1924.2" y="292.1" width="11.8" height="11.8" fill="#7f00ff"/>
<rect x="1924.2" y="298.8" width="11.8" height="11.8" fill="#7f00ff"/>
<rect x="1924.2" y="337.9" width="11.8" height="11.8" fill="#7f00ff"/>
<rect x="1924.2" y="345.1" width="11.8" height="11.8" fill="#7f00ff"/>
<rect x="1924.2" y="351.1" width="11.8" height="11.8" fill="#7f00ff"/>
<rect x="1924.2" y="358.1" width="11.8" height="11.8" fill="#7f00ff"/>
<rect x="1924.2" y="379.7" width="11.8" height="11.8" fill="#7f00ff"/>
<rect x="1924.2" y="385.4" width="11.8" height="11.8" fill="#7f00ff"/>
<rect x="1924.2" y="413.9" width="11.8" height="11.8" fill="#7f00ff"/>
<polyline points="1556.1,334.4 1680.8,308.6 1805.3,321.6 1930.1,329.5" fill="none" stroke="#7f00ff" stroke-width="2" />
<line x1="1556.1" y1="288.1" x2="1556.1" y2="380.7" stroke="#7f00ff" stroke-width="1.9" />
<line x1="1549.1" y1="288.1" x2="1563.1" y2="288.1" stroke="#7f00ff" stroke-width="1.9" />
<line x1="1549.1" y1="380.7" x2="1563.1" y2="380.7" stroke="#7f00ff" stroke-width="1.9" />
<line x1="1680.8" y1="266.8" x2="1680.8" y2="350.4" stroke="#7f00ff" stroke-width="1.9" />
<line x1="1673.8" y1="266.8" x2="1687.8" y2="266.8" stroke="#7f00ff" stroke-width="1.9" />
<line x1="1673.8" y1="350.4" x2="1687.8" y2="350.4" stroke="#7f00ff" stroke-width="1.9" />
<line x1="1805.3" y1="291.8" x2="1805.3" y2="351.4" stroke="#7f00ff" stroke-width="1.9" />
<line x1="1798.3" y1="291.8" x2="1812.3" y2="291.8" stroke="#7f00ff" stroke-width="1.9" />
<line x1="1798.3" y1="351.4" x2="1812.3" y2="351.4" stroke="#7f00ff" stroke-width="1.9" />
<line x1="1930.1" y1="282.5" x2="1930.1" y2="376.5" stroke="#7f00ff" stroke-width="1.9" />
<line x1="1923.1" y1="282.5" x2="1937.1" y2="282.5" stroke="#7f00ff" stroke-width="1.9" />
<line x1="1923.1" y1="376.5" x2="1937.1" y2="376.5" stroke="#7f00ff" stroke-width="1.9" />
<rect x="1550.9" y="329.2" width="10.4" height="10.4" fill="none" stroke="#7f00ff" stroke-width="2"/>
<rect x="1675.6" y="303.4" width="10.4" height="10.4" fill="none" stroke="#7f00ff" stroke-width="2"/>
<rect x="1800.1" y="316.4" width="10.4" height="10.4" fill="none" stroke="#7f00ff" stroke-width="2"/>
<rect x="1924.9" y="324.3" width="10.4" height="10.4" fill="none" stroke="#7f00ff" stroke-width="2"/>
<polygon points="1587.3,279.5 1595.1,289.8 1587.3,300.1 1579.5,289.8" fill="#000"/>
<polygon points="1587.3,315.9 1595.1,326.2 1587.3,336.5 1579.5,326.2" fill="#000"/>
<polygon points="1587.3,329.7 1595.1,340 1587.3,350.3 1579.5,340" fill="#000"/>
<polygon points="1587.3,337.7 1595.1,348 1587.3,358.3 1579.5,348" fill="#000"/>
<polygon points="1587.3,344.7 1595.1,355 1587.3,365.3 1579.5,355" fill="#000"/>
<polygon points="1587.3,352.3 1595.1,362.6 1587.3,372.9 1579.5,362.6" fill="#000"/>
<polygon points="1711.8,253.8 1719.6,264.1 1711.8,274.4 1704,264.1" fill="#000"/>
<polygon points="1711.8,267.8 1719.6,278.1 1711.8,288.4 1704,278.1" fill="#000"/>
<polygon points="1711.8,324 1719.6,334.3 1711.8,344.6 1704,334.3" fill="#000"/>
<polygon points="1711.8,338.8 1719.6,349.1 1711.8,359.4 1704,349.1" fill="#000"/>
<polygon points="1711.8,347.1 1719.6,357.4 1711.8,367.7 1704,357.4" fill="#000"/>
<polygon points="1711.8,383.5 1719.6,393.8 1711.8,404.1 1704,393.8" fill="#000"/>
<polygon points="1836.6,191.2 1844.4,201.5 1836.6,211.8 1828.8,201.5" fill="#000"/>
<polygon points="1836.6,298.5 1844.4,308.8 1836.6,319.1 1828.8,308.8" fill="#000"/>
<polygon points="1836.6,321.7 1844.4,332 1836.6,342.3 1828.8,332" fill="#000"/>
<polygon points="1836.6,336.5 1844.4,346.8 1836.6,357.1 1828.8,346.8" fill="#000"/>
<polygon points="1836.6,346.7 1844.4,357 1836.6,367.3 1828.8,357" fill="#000"/>
<polygon points="1836.6,390.6 1844.4,400.9 1836.6,411.2 1828.8,400.9" fill="#000"/>
<polygon points="1961.2,300.6 1969,310.9 1961.2,321.2 1953.4,310.9" fill="#000"/>
<polygon points="1961.2,313.6 1969,323.9 1961.2,334.2 1953.4,323.9" fill="#000"/>
<polygon points="1961.2,322.9 1969,333.2 1961.2,343.5 1953.4,333.2" fill="#000"/>
<polygon points="1961.2,361.6 1969,371.9 1961.2,382.2 1953.4,371.9" fill="#000"/>
<polygon points="1961.2,371.7 1969,382 1961.2,392.3 1953.4,382" fill="#000"/>
<polygon points="1961.2,376.4 1969,386.7 1961.2,397 1953.4,386.7" fill="#000"/>
<line x1="1587.3" y1="312.9" x2="1587.3" y2="368.3" stroke="#000" stroke-width="1.9" />
<line x1="1580.3" y1="312.9" x2="1594.3" y2="312.9" stroke="#000" stroke-width="1.9" />
<line x1="1580.3" y1="368.3" x2="1594.3" y2="368.3" stroke="#000" stroke-width="1.9" />
<line x1="1711.8" y1="278.6" x2="1711.8" y2="379" stroke="#000" stroke-width="1.9" />
<line x1="1704.8" y1="278.6" x2="1718.8" y2="278.6" stroke="#000" stroke-width="1.9" />
<line x1="1704.8" y1="379" x2="1718.8" y2="379" stroke="#000" stroke-width="1.9" />
<line x1="1836.6" y1="255.7" x2="1836.6" y2="390.9" stroke="#000" stroke-width="1.9" />
<line x1="1829.6" y1="255.7" x2="1843.6" y2="255.7" stroke="#000" stroke-width="1.9" />
<line x1="1829.6" y1="390.9" x2="1843.6" y2="390.9" stroke="#000" stroke-width="1.9" />
<line x1="1961.2" y1="318.8" x2="1961.2" y2="384.2" stroke="#000" stroke-width="1.9" />
<line x1="1954.2" y1="318.8" x2="1968.2" y2="318.8" stroke="#000" stroke-width="1.9" />
<line x1="1954.2" y1="384.2" x2="1968.2" y2="384.2" stroke="#000" stroke-width="1.9" />
<polyline points="1587.3,341.2 1711.8,329.4 1836.6,323.6 1961.2,351.6" fill="none" stroke="#000" stroke-width="7.2" stroke-dasharray="16.6 11.1" stroke-dashoffset="1.5" />
<polyline points="1587.3,341.2 1711.8,329.4 1836.6,323.6 1961.2,351.6" fill="none" stroke="#fff" stroke-width="1.9" stroke-dasharray="11 16.7" stroke-dashoffset="-1.3" />
<polygon points="1587.3,331 1594.7,340.6 1587.3,350.2 1579.9,340.6" fill="none" stroke="#000" stroke-width="1.8" stroke-linejoin="miter"/>
<polygon points="1711.8,319.2 1719.2,328.8 1711.8,338.4 1704.4,328.8" fill="none" stroke="#000" stroke-width="1.8" stroke-linejoin="miter"/>
<polygon points="1836.6,313.7 1844,323.3 1836.6,332.9 1829.2,323.3" fill="none" stroke="#000" stroke-width="1.8" stroke-linejoin="miter"/>
<polygon points="1961.2,341.9 1968.6,351.5 1961.2,361.1 1953.8,351.5" fill="none" stroke="#000" stroke-width="1.8" stroke-linejoin="miter"/>
<line x1="1509.6" y1="116.6" x2="1509.6" y2="544.5" stroke="#1c1c1c" stroke-width="2.5" />
<line x1="1508.5" y1="543.4" x2="2009.2" y2="543.4" stroke="#1c1c1c" stroke-width="2.5" />
<line x1="1509.6" y1="117.6" x2="1515.7" y2="117.6" stroke="#1c1c1c" stroke-width="2.5" />
<text transform="translate(1500.3 127.8) scale(1 1.045)" font-size="30" text-anchor="end" fill="#000" stroke="#000" stroke-width="0.3">15</text>
<line x1="1509.6" y1="188.57" x2="1515.7" y2="188.57" stroke="#1c1c1c" stroke-width="2.5" />
<text transform="translate(1500.3 198.77) scale(1 1.045)" font-size="30" text-anchor="end" fill="#000" stroke="#000" stroke-width="0.3">10</text>
<line x1="1509.6" y1="259.54" x2="1515.7" y2="259.54" stroke="#1c1c1c" stroke-width="2.5" />
<text transform="translate(1500.3 269.74) scale(1 1.045)" font-size="30" text-anchor="end" fill="#000" stroke="#000" stroke-width="0.3">5</text>
<line x1="1509.6" y1="330.51" x2="1515.7" y2="330.51" stroke="#1c1c1c" stroke-width="2.5" />
<text transform="translate(1500.3 340.71) scale(1 1.045)" font-size="30" text-anchor="end" fill="#000" stroke="#000" stroke-width="0.3">0</text>
<line x1="1509.6" y1="401.48" x2="1515.7" y2="401.48" stroke="#1c1c1c" stroke-width="2.5" />
<text transform="translate(1500.3 411.68) scale(1 1.045)" font-size="30" text-anchor="end" fill="#000" stroke="#000" stroke-width="0.3">-5</text>
<line x1="1509.6" y1="472.45" x2="1515.7" y2="472.45" stroke="#1c1c1c" stroke-width="2.5" />
<text transform="translate(1500.3 482.65) scale(1 1.045)" font-size="30" text-anchor="end" fill="#000" stroke="#000" stroke-width="0.3">-10</text>
<line x1="1509.6" y1="543.42" x2="1515.7" y2="543.42" stroke="#1c1c1c" stroke-width="2.5" />
<text transform="translate(1500.3 553.62) scale(1 1.045)" font-size="30" text-anchor="end" fill="#000" stroke="#000" stroke-width="0.3">-15</text>
<line x1="1571.9" y1="536.7" x2="1571.9" y2="543.4" stroke="#1c1c1c" stroke-width="2.5" />
<text transform="translate(1572.5 575.5) scale(1 1.045)" font-size="30" text-anchor="middle" fill="#000" stroke="#000" stroke-width="0.3">8</text>
<line x1="1696.3" y1="536.7" x2="1696.3" y2="543.4" stroke="#1c1c1c" stroke-width="2.5" />
<text transform="translate(1696.9 575.5) scale(1 1.045)" font-size="30" text-anchor="middle" fill="#000" stroke="#000" stroke-width="0.3">12</text>
<line x1="1820.9" y1="536.7" x2="1820.9" y2="543.4" stroke="#1c1c1c" stroke-width="2.5" />
<text transform="translate(1821.5 575.5) scale(1 1.045)" font-size="30" text-anchor="middle" fill="#000" stroke="#000" stroke-width="0.3">16</text>
<line x1="1945.5" y1="536.7" x2="1945.5" y2="543.4" stroke="#1c1c1c" stroke-width="2.5" />
<text transform="translate(1946.1 575.5) scale(1 1.045)" font-size="30" text-anchor="middle" fill="#000" stroke="#000" stroke-width="0.3">20</text>
<text transform="translate(1754.6 633.9)" font-size="33.3" text-anchor="middle" fill="#000" stroke="#000" stroke-width="0.3">Carrier Band Edge (kHz)</text>
<text transform="translate(1438 343.3) rotate(-90)" font-size="33.55" text-anchor="middle" fill="#000" stroke="#000" stroke-width="0.3">Mean Startle Diff (%)</text>
<text transform="translate(1374 76) scale(0.95 1)" font-size="45.6" text-anchor="start" fill="#000" font-weight="bold">C</text>
<text transform="translate(1764.8 450.9) scale(1 0.96)" font-size="21" text-anchor="start" fill="#7f00ff" stroke="#7f00ff" stroke-width="0.1">Exposed</text>
<text transform="translate(1765.4 479.1) scale(1 0.93)" font-size="21.4" text-anchor="start" fill="#000" stroke="#000" stroke-width="0.1">Control</text>
</svg>
</body>
</html>
